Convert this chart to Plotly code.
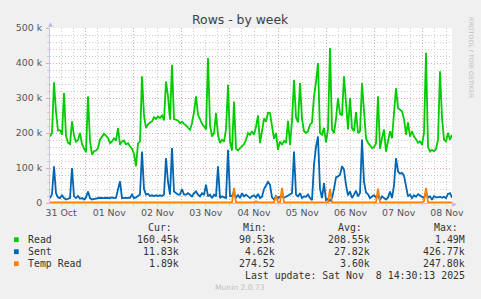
import pandas as pd
import plotly.graph_objects as go

# ---------------- data (values in thousands of rows) ----------------
start = pd.Timestamp("2025-10-31 06:30")
end = pd.Timestamp("2025-11-08 14:30")

read_k = [
    190, 200, 345, 260, 207, 208, 195, 315, 192, 172, 168, 233, 192, 175, 180, 200, 168, 155, 145, 305,
    176, 138, 148, 150, 157, 181, 190, 198, 192, 186, 171, 176, 185, 178, 214, 166, 176, 178, 168, 171,
    162, 155, 140, 105, 170, 176, 362, 250, 214, 225,
    230, 233, 245, 240, 247, 243, 250, 236, 347, 305, 238, 395, 240, 237, 236, 228, 232, 226, 222, 215,
    209, 228, 260, 305, 252, 240, 226, 219, 210, 414, 224, 190, 200, 257, 195, 171, 181, 175, 210, 338,
    176, 150, 290, 155, 150, 157, 162, 168, 180, 200,
    195, 205, 195, 218, 250, 171, 205, 242, 232, 258, 257, 222, 183, 200, 152, 176, 166, 178, 172, 235,
    166, 235, 352, 245, 230, 343, 240, 205, 200, 205, 224, 230, 305, 345, 400, 200, 195, 215, 173, 210,
    443, 210, 200, 240, 300, 255, 250, 362, 280, 210,
    300, 214, 205, 260, 200, 205, 343, 260, 185, 172, 166, 157, 160, 170, 305, 155, 185, 210, 147, 172,
    205, 185, 255, 328, 271, 267, 262, 240, 195, 230, 190, 205, 190, 182, 172, 176, 166, 200, 429, 160,
    147, 152, 148, 155, 180, 376, 243, 181, 176, 200, 181, 195,
]

sent_k = [
    14, 25, 105, 28, 16, 14, 22, 14, 10, 12, 14, 100, 19, 14, 20, 12, 14, 10, 16, 33,
    14, 10, 12, 14, 14, 15, 14, 14, 15, 14, 14, 16, 14, 15, 40, 62, 14, 14, 13, 14,
    15, 24, 14, 16, 19, 24, 147, 40, 24, 26,
    20, 22, 20, 22, 20, 22, 20, 24, 128, 60, 24, 157, 33, 28, 24, 24, 40, 24, 24, 28,
    24, 19, 28, 33, 24, 19, 28, 24, 52, 19, 24, 14, 24, 19, 105, 14, 19, 16, 14, 152,
    20, 19, 33, 14, 24, 14, 28, 19, 24, 19,
    14, 19, 22, 16, 26, 14, 18, 40, 50, 60, 52, 16, 10, 20, 14, 18, 19, 15, 18, 22,
    26, 28, 147, 24, 19, 28, 14, 19, 18, 24, 14, 8, 110, 160, 190, 40, 14, 57, 8, 12,
    6, 14, 40, 73, 76, 81, 105, 95, 52, 22,
    33, 14, 24, 35, 19, 28, 181, 60, 30, 25, 14, 19, 22, 16, 20, 9, 19, 14, 10, 16,
    33, 14, 50, 128, 90, 84, 86, 78, 50, 19, 24, 14, 22, 18, 25, 22, 18, 14, 30, 16,
    19, 9, 20, 16, 16, 18, 15, 18, 14, 26, 28, 15,
]

temp_read_k = [
    2, 2, 3, 2, 2, 2, 2, 2, 3, 2, 2, 2, 2, 2, 2, 3, 2, 2, 2, 2,
    2, 2, 2, 3, 2, 2, 2, 2, 2, 2, 2, 2, 3, 2, 2, 2, 2, 2, 2, 2,
    2, 2, 2, 2, 3, 2, 2, 2, 2, 2, 2, 2, 2, 2, 3, 2, 2, 2, 2, 2,
    2, 3, 2, 2, 2, 2, 2, 2, 2, 2, 2, 3, 2, 2, 2, 2, 2, 2, 2, 2,
    2, 2, 2, 2, 2, 3, 2, 2, 2, 2, 2, 2, 43, 2, 2, 2, 2, 2, 3, 2,
    2, 2, 2, 5, 2, 2, 2, 2, 2, 2, 3, 2, 2, 20, 2, 2, 43, 2, 2, 2,
    2, 2, 3, 2, 2, 2, 2, 2, 2, 2, 2, 2, 2, 2, 2, 3, 2, 2, 2, 2,
    40, 2, 2, 2, 2, 2, 2, 2, 2, 2, 2, 2, 3, 2, 2, 2, 2, 2, 2, 2,
    2, 2, 2, 2, 41, 2, 2, 2, 2, 2, 2, 2, 2, 3, 2, 2, 2, 2, 2, 2,
    2, 2, 2, 2, 2, 2, 2, 5, 43, 2, 2, 2, 2, 2, 2, 2, 2, 2, 2, 2,
    2, 2,
]

series_names = ["Read", "Sent", "Temp Read"]
series_colors = ["#00CC00", "#0066B3", "#FF8000"]
stat_headers = ["Cur:", "Min:", "Avg:", "Max:"]
stats = [
    ["160.45k", "90.53k", "208.55k", "1.49M"],
    ["11.83k", "4.62k", "27.82k", "426.77k"],
    ["1.89k", "274.52", "3.60k", "247.80k"],
]
y_tick_vals = [0, 100, 200, 300, 400, 500]
y_tick_text = ["0", "100 k", "200 k", "300 k", "400 k", "500 k"]
day_labels = ["31 Oct", "01 Nov", "02 Nov", "03 Nov", "04 Nov", "05 Nov", "06 Nov", "07 Nov", "08 Nov"]
label_times = pd.date_range("2025-10-31 12:00", periods=len(day_labels), freq="D")
midnights = pd.date_range("2025-11-01", "2025-11-08", freq="D")
last_update = "Last update: Sat Nov\u00a0\u00a08 14:30:13 2025"

times = pd.date_range(start, end, periods=len(read_k))

# ---------------- geometry helpers (pixel -> paper) ----------------
W, H = 481, 299
L, R, T, B = 50, 29, 28, 96
PW, PH = W - L - R, H - T - B


def px(x):
    return (x - L) / PW


def py(y):
    return (H - B - y) / PH


fig = go.Figure()
for name, vals, col in zip(series_names, [read_k, sent_k, temp_read_k], series_colors):
    fig.add_trace(go.Scatter(x=times, y=vals, mode="lines", name=name,
                             line=dict(color=col, width=1.8), showlegend=False,
                             hoverinfo="skip"))
# carrier for the label axis
fig.add_trace(go.Scatter(x=[start, end], y=[None, None], xaxis="x2", mode="lines",
                         showlegend=False, hoverinfo="skip"))

red = "#e8a8a8"
grey = "#cfcfcf"
axis_col = "#c4c4e8"
tick_font = dict(family="DejaVu Sans", size=9.4, color="#555555")
mono = "DejaVu Sans Mono"

fig.update_layout(
    width=W, height=H,
    margin=dict(l=L, r=R, t=T, b=B, pad=0),
    paper_bgcolor="#F0F0F0", plot_bgcolor="#FFFFFF",
    xaxis=dict(type="date", range=[start, end], tickmode="array", tickvals=midnights,
               ticktext=[""] * len(midnights), showticklabels=False,
               ticks="outside", ticklen=3, tickcolor=red,
               showgrid=True, gridcolor=red, griddash="1px,2px", gridwidth=1,
               minor=dict(dtick=6 * 3600 * 1000, tick0="2025-11-01", showgrid=True,
                          gridcolor=grey, griddash="1px,2px", gridwidth=1,
                          ticks="outside", ticklen=2, tickcolor=grey),
               showline=True, linecolor=axis_col, linewidth=1, zeroline=False,
               fixedrange=True),
    xaxis2=dict(type="date", range=[start, end], overlaying="x", anchor="y", side="bottom",
                tickmode="array", tickvals=label_times, ticktext=day_labels,
                showgrid=False, ticks="", tickfont=tick_font, showline=False,
                zeroline=False, ticklabelstandoff=3),
    yaxis=dict(range=[0, 500], tickmode="array", tickvals=y_tick_vals, ticktext=y_tick_text,
               tickfont=tick_font, ticks="outside", ticklen=3, tickcolor=red,
               showgrid=True, gridcolor=red, griddash="1px,2px", gridwidth=1,
               minor=dict(dtick=20, showgrid=True, gridcolor=grey, griddash="1px,2px",
                          gridwidth=1, ticks="outside", ticklen=2, tickcolor=grey),
               showline=True, linecolor=axis_col, linewidth=1, zeroline=False,
               ticklabelstandoff=2),
    showlegend=False,
)

ann = []
ann.append(dict(text="Rows - by week", x=px(240.5), y=py(20), xref="paper", yref="paper",
                xanchor="center", yanchor="middle", showarrow=False,
                font=dict(family="DejaVu Sans", size=12.4, color="#404040")))
ann.append(dict(text="RRDTOOL / TOBI OETIKER", x=px(471), y=py(58), xref="paper", yref="paper",
                xanchor="center", yanchor="middle", showarrow=False, textangle=90,
                font=dict(family="DejaVu Sans", size=6.3, color="#bdbdbd")))
# axis arrows
ann.append(dict(text="\u25B2", x=px(50), y=py(24), xref="paper", yref="paper",
                xanchor="center", yanchor="middle", showarrow=False,
                font=dict(family="DejaVu Sans", size=6, color="#b8b8f0")))
ann.append(dict(text="\u25B6", x=px(455), y=py(203), xref="paper", yref="paper",
                xanchor="center", yanchor="middle", showarrow=False,
                font=dict(family="DejaVu Sans", size=6, color="#b8b8f0")))

# legend table
head_x = [145.7, 240.7, 336.0, 431.7]
val_right = [181.0, 276.7, 371.7, 466.7]
row_y = [239.7, 251.7, 263.7]
txt_col = "#333333"
for hx, h in zip(head_x, stat_headers):
    ann.append(dict(text=h, x=px(hx), y=py(227.7), xref="paper", yref="paper",
                    xanchor="left", yanchor="middle", showarrow=False,
                    font=dict(family=mono, size=9.9, color=txt_col)))
shapes = []
for ry, name, col, vals in zip(row_y, series_names, series_colors, stats):
    shapes.append(dict(type="rect", xref="paper", yref="paper",
                       x0=px(14), x1=px(18.7), y0=py(ry - 2.4), y1=py(ry + 2.4),
                       fillcolor=col, line=dict(width=0)))
    ann.append(dict(text=name, x=px(26), y=py(ry), xref="paper", yref="paper",
                    xanchor="left", yanchor="middle", showarrow=False,
                    font=dict(family=mono, size=9.9, color=txt_col)))
    for vx, v in zip(val_right, vals):
        ann.append(dict(text=v, x=px(vx), y=py(ry), xref="paper", yref="paper",
                        xanchor="right", yanchor="middle", showarrow=False,
                        font=dict(family=mono, size=9.9, color=txt_col)))
ann.append(dict(text=last_update, x=px(466.7), y=py(275.7), xref="paper", yref="paper",
                xanchor="right", yanchor="middle", showarrow=False,
                font=dict(family=mono, size=9.9, color=txt_col)))
ann.append(dict(text="Munin 2.0.73", x=px(240), y=py(287.7), xref="paper", yref="paper",
                xanchor="center", yanchor="middle", showarrow=False,
                font=dict(family="DejaVu Sans", size=7.6, color="#c0c0c0")))

fig.update_layout(annotations=ann, shapes=shapes)
fig.write_html("out.html", config={"staticPlot": True})
